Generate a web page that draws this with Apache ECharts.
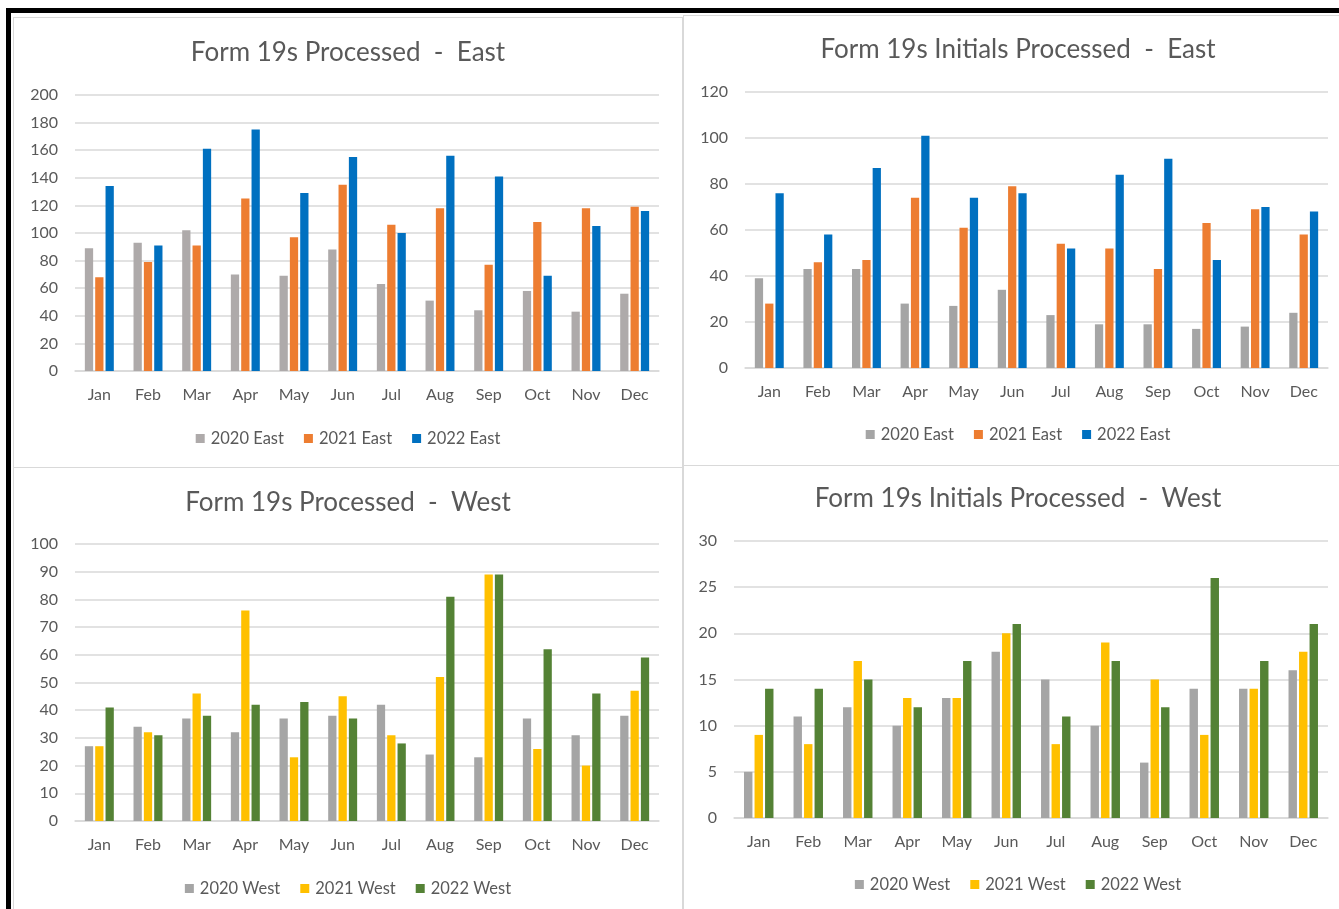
<!DOCTYPE html>
<html>
<head>
<meta charset="utf-8">
<script src="https://cdn.jsdelivr.net/npm/echarts@6/dist/echarts.min.js"></script>
<style>
  html, body { margin: 0; padding: 0; background: #fff; width: 1339px; height: 909px; overflow: hidden; position: relative; }
  .bar-top { position: absolute; left: 6px; top: 8px; width: 1340px; height: 5px; background: #000; }
  .bar-left { position: absolute; left: 6px; top: 8px; width: 5px; height: 910px; background: #000; }
  .panel { position: absolute; width: 670px; height: 451px; box-sizing: border-box; border: 1px solid #d9d9d9; background: #fff; }
  .panel .chart { position: absolute; left: -1px; top: -1px; width: 670px; height: 451px; }
</style>
</head>
<body>
<div class="bar-top"></div>
<div class="bar-left"></div>
<div class="panel" style="left:13px; top:17px;"><div class="chart" id="c1"></div></div>
<div class="panel" style="left:683px; top:15px;"><div class="chart" id="c2"></div></div>
<div class="panel" style="left:13px; top:467px;"><div class="chart" id="c3"></div></div>
<div class="panel" style="left:683px; top:465px;"><div class="chart" id="c4"></div></div>

<script>
var months = ["Jan", "Feb", "Mar", "Apr", "May", "Jun", "Jul", "Aug", "Sep", "Oct", "Nov", "Dec"];

// Form 19s Processed - East
var processedEast2020 = [89, 93, 102, 70, 69, 88, 63, 51, 44, 58, 43, 56];
var processedEast2021 = [68, 79, 91, 125, 97, 135, 106, 118, 77, 108, 118, 119];
var processedEast2022 = [134, 91, 161, 175, 129, 155, 100, 156, 141, 69, 105, 116];

// Form 19s Initials Processed - East
var initialsEast2020 = [39, 43, 43, 28, 27, 34, 23, 19, 19, 17, 18, 24];
var initialsEast2021 = [28, 46, 47, 74, 61, 79, 54, 52, 43, 63, 69, 58];
var initialsEast2022 = [76, 58, 87, 101, 74, 76, 52, 84, 91, 47, 70, 68];

// Form 19s Processed - West
var processedWest2020 = [27, 34, 37, 32, 37, 38, 42, 24, 23, 37, 31, 38];
var processedWest2021 = [27, 32, 46, 76, 23, 45, 31, 52, 89, 26, 20, 47];
var processedWest2022 = [41, 31, 38, 42, 43, 37, 28, 81, 89, 62, 46, 59];

// Form 19s Initials Processed - West
var initialsWest2020 = [5, 11, 12, 10, 13, 18, 15, 10, 6, 14, 14, 16];
var initialsWest2021 = [9, 8, 17, 13, 13, 20, 8, 19, 15, 9, 14, 18];
var initialsWest2022 = [14, 14, 15, 12, 17, 21, 11, 17, 12, 26, 17, 21];

var eastNames = ["2020 East", "2021 East", "2022 East"];
var westNames = ["2020 West", "2021 West", "2022 West"];

var FONT = "Lato, 'Open Sans', sans-serif";
var TEXT = "#595959";

function makeChart(id, cfg) {
  var chart = echarts.init(document.getElementById(id));
  var series = cfg.data.map(function (d, i) {
    return {
      name: cfg.names[i],
      type: "bar",
      data: d,
      barWidth: "17%",
      barGap: "25%",
      itemStyle: { color: cfg.colors[i] },
    };
  });
  chart.setOption({
    animation: false,
    textStyle: { fontFamily: FONT },
    title: {
      text: cfg.title,
      left: "center",
      top: cfg.titleTop,
      textStyle: { fontFamily: FONT, fontSize: 26, fontWeight: "normal", color: TEXT },
    },
    legend: {
      data: cfg.names,
      top: cfg.legendTop,
      left: "center",
      icon: "rect",
      itemWidth: 9,
      itemHeight: 9,
      itemGap: 20,
      textStyle: { fontFamily: FONT, fontSize: 16.5, color: TEXT, padding: [0, 0, 0, 1] },
    },
    grid: { left: cfg.left, top: cfg.top, width: cfg.width, height: cfg.height, containLabel: false },
    xAxis: {
      type: "category",
      data: months,
      axisTick: { show: false },
      axisLine: { lineStyle: { color: "#d9d9d9", width: 1.5 } },
      axisLabel: { color: TEXT, fontSize: 16, margin: 16, fontFamily: FONT },
    },
    yAxis: {
      type: "value",
      min: 0,
      max: cfg.max,
      interval: cfg.interval,
      axisLine: { show: false },
      axisTick: { show: false },
      axisLabel: { color: TEXT, fontSize: 16, margin: 17, fontFamily: FONT },
      splitLine: { lineStyle: { color: "#d9d9d9", width: 1.5 } },
    },
    series: series,
  });
  return chart;
}

makeChart("c1", {
  title: "Form 19s Processed  -  East",
  names: eastNames,
  colors: ["#AEAAAA", "#ED7D31", "#0070C0"],
  data: [processedEast2020, processedEast2021, processedEast2022],
  max: 200, interval: 20,
  left: 62, top: 78, width: 584, height: 276,
  titleTop: 18, legendTop: 408,
});

makeChart("c2", {
  title: "Form 19s Initials Processed  -  East",
  names: eastNames,
  colors: ["#A5A5A5", "#ED7D31", "#0070C0"],
  data: [initialsEast2020, initialsEast2021, initialsEast2022],
  max: 120, interval: 20,
  left: 62, top: 77, width: 583, height: 276,
  titleTop: 17, legendTop: 406,
});

makeChart("c3", {
  title: "Form 19s Processed  -  West",
  names: westNames,
  colors: ["#A5A5A5", "#FFC000", "#548235"],
  data: [processedWest2020, processedWest2021, processedWest2022],
  max: 100, interval: 10,
  left: 62, top: 77, width: 584, height: 277,
  titleTop: 18, legendTop: 408,
});

makeChart("c4", {
  title: "Form 19s Initials Processed  -  West",
  names: westNames,
  colors: ["#A5A5A5", "#FFC000", "#548235"],
  data: [initialsWest2020, initialsWest2021, initialsWest2022],
  max: 30, interval: 5,
  left: 51, top: 76, width: 594, height: 277,
  titleTop: 16, legendTop: 406,
});
</script>
</body>
</html>
